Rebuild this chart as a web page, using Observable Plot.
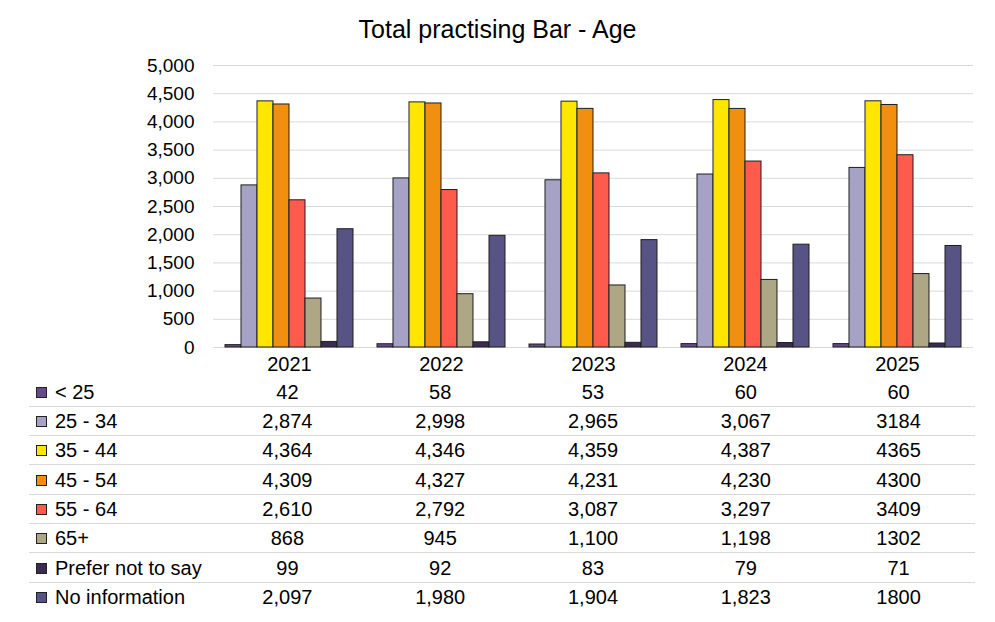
<!DOCTYPE html>
<html>
<head>
<meta charset="utf-8">
<script src="https://cdn.jsdelivr.net/npm/d3@7"></script>
<script src="https://cdn.jsdelivr.net/npm/@observablehq/plot@0.6"></script>
<style>
  html, body { margin: 0; padding: 0; background: #fff; }
  body { width: 995px; height: 622px; position: relative; overflow: hidden;
         font-family: "Liberation Sans", Arial, sans-serif; color: #000; }
  #title { position: absolute; left: 0; top: 0; width: 995px; height: 56px; line-height: 58px;
           text-align: center; font-size: 25px; }
  #chart { position: absolute; left: 0; top: 56px; }
  #table { position: absolute; left: 29px; top: 377.5px; border-collapse: collapse; table-layout: fixed;
           font-size: 20px; }
  #table td { height: 28.33px; padding: 0; white-space: nowrap; line-height: 28px; }
  #table tr:not(:last-child) td { border-bottom: 1px solid #d9d9d9; }
  #table td.val { text-align: center; }
  .key { display: inline-block; box-sizing: border-box; width: 11px; height: 11px; border: 1px solid #222;
         margin-left: 7px; margin-right: 8px; vertical-align: 1px; }
</style>
</head>
<body>
<div id="title">Total practising Bar - Age</div>
<div id="chart"></div>
<table id="table"></table>
<script>
const years = ["2021", "2022", "2023", "2024", "2025"];
const groups = ["< 25", "25 - 34", "35 - 44", "45 - 54", "55 - 64", "65+", "Prefer not to say", "No information"];
const groupColors = ["#634B8A", "#A6A2C6", "#FFE600", "#F0900D", "#FF5B4C", "#ADA786", "#3B2B52", "#575384"];

const under25 = [42, 58, 53, 60, 60];
const age25to34 = [2874, 2998, 2965, 3067, 3184];
const age35to44 = [4364, 4346, 4359, 4387, 4365];
const age45to54 = [4309, 4327, 4231, 4230, 4300];
const age55to64 = [2610, 2792, 3087, 3297, 3409];
const age65plus = [868, 945, 1100, 1198, 1302];
const preferNotToSay = [99, 92, 83, 79, 71];
const noInformation = [2097, 1980, 1904, 1823, 1800];

const yTicks = [0, 500, 1000, 1500, 2000, 2500, 3000, 3500, 4000, 4500, 5000];

const series = [under25, age25to34, age35to44, age45to54, age55to64, age65plus, preferNotToSay, noInformation];
const data = groups.flatMap((g, i) => years.map((y, j) => ({ year: y, group: g, value: series[i][j] })));

const fmt = d3.format(",");

const chart = Plot.plot({
  width: 995,
  height: 319,
  marginLeft: 211,
  marginRight: 20,
  marginTop: 9,
  marginBottom: 28,
  style: { fontFamily: "'Liberation Sans', Arial, sans-serif", fontSize: "19px", color: "#000", overflow: "visible", background: "#fff" },
  fx: { domain: years, padding: 0, label: null },
  x: { domain: groups, paddingInner: 0, paddingOuter: 0.72, axis: null },
  y: { domain: [0, 5000], label: null },
  color: { domain: groups, range: groupColors },
  marks: [
    Plot.gridY(yTicks, { stroke: "#d9d9d9", strokeOpacity: 1, strokeWidth: 1 }),
    Plot.axisY(yTicks, { tickSize: 0, tickPadding: 19, tickFormat: fmt, label: null, fontSize: 19 }),
    Plot.barY(data, { fx: "year", x: "group", y: "value", fill: "group", stroke: "#1e1e1e", strokeWidth: 1 }),
    Plot.axisFx({ anchor: "bottom", tickSize: 0, tickPadding: 9, label: null, fontSize: 20 })
  ]
});
document.getElementById("chart").appendChild(chart);

// data table below the chart
const table = document.getElementById("table");
const colgroup = document.createElement("colgroup");
const c0 = document.createElement("col"); c0.style.width = "182px"; colgroup.appendChild(c0);
years.forEach(() => { const c = document.createElement("col"); c.style.width = "152.8px"; colgroup.appendChild(c); });
table.appendChild(colgroup);
groups.forEach((g, i) => {
  const tr = document.createElement("tr");
  const td0 = document.createElement("td");
  const key = document.createElement("span");
  key.className = "key";
  key.style.background = groupColors[i];
  td0.appendChild(key);
  td0.appendChild(document.createTextNode(g));
  tr.appendChild(td0);
  years.forEach((y, j) => {
    const td = document.createElement("td");
    td.className = "val";
    td.textContent = y === "2025" ? String(series[i][j]) : fmt(series[i][j]);
    tr.appendChild(td);
  });
  table.appendChild(tr);
});
</script>
</body>
</html>
